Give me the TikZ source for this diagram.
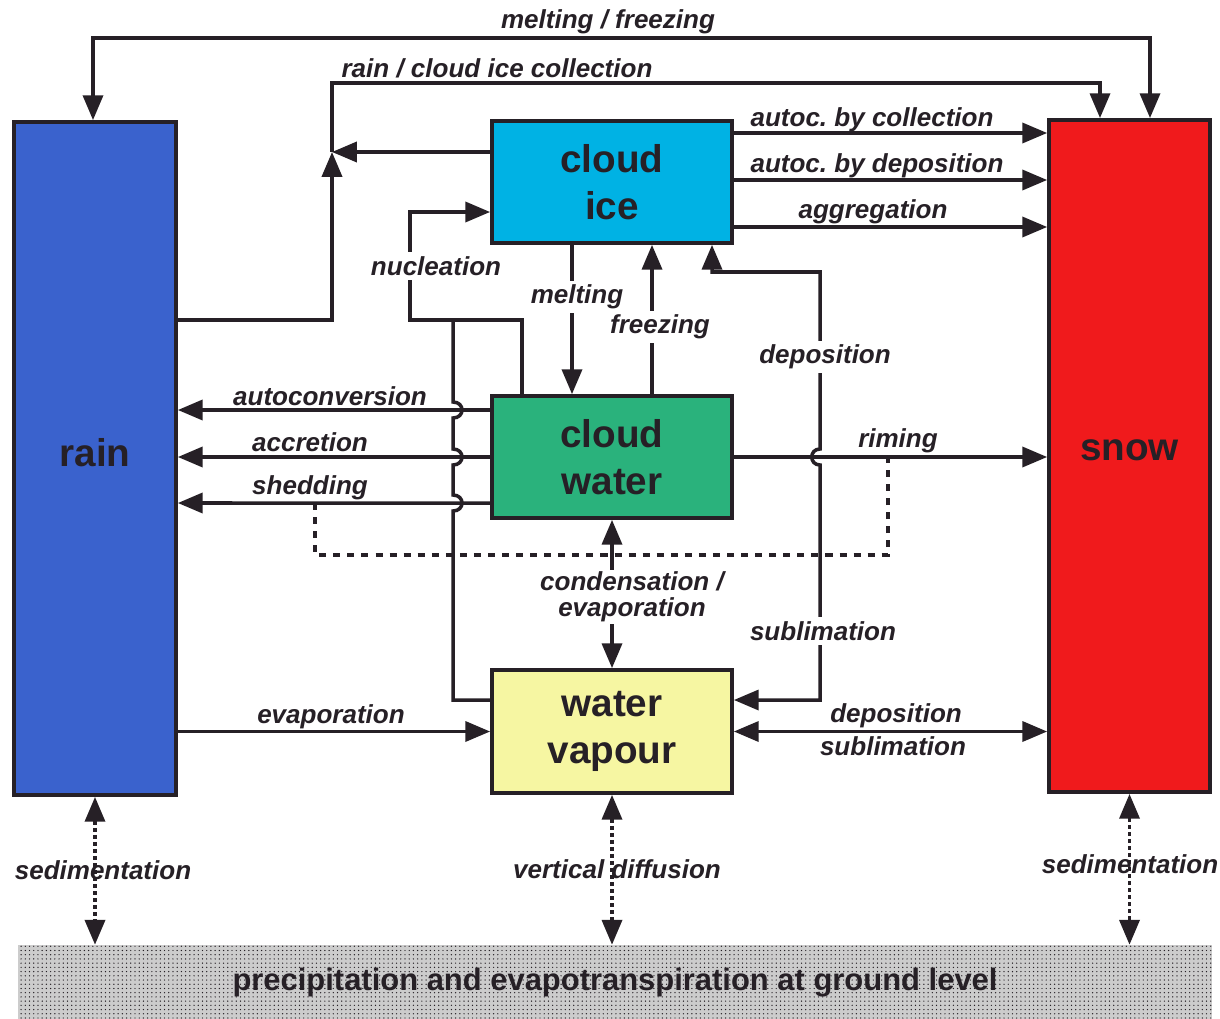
\documentclass[tikz,border=0pt]{standalone}
\usepackage{fontspec}
\setmainfont{Liberation Sans}
\usepackage{tikz}
\usetikzlibrary{arrows.meta, patterns}

\definecolor{ink}{RGB}{38,32,38}
\definecolor{rainblue}{RGB}{58,98,205}
\definecolor{snowred}{RGB}{240,26,28}
\definecolor{iceblue}{RGB}{0,178,228}
\definecolor{watergreen}{RGB}{42,178,124}
\definecolor{vapouryellow}{RGB}{246,246,162}

\tikzset{
  box/.style={draw=ink, line width=2.6pt, inner sep=0pt, align=center,
    text=ink, font=\fontsize{27.5}{33}\selectfont\bfseries},
  lbl/.style={text=ink, inner sep=1pt, align=center,
    font=\frenchspacing\fontsize{18.5}{18.5}\selectfont\bfseries\itshape},
  gap/.style={lbl, fill=white, inner sep=3pt},
  flow/.style={draw=ink, line width=2.5pt},
  arr/.style={flow, -{Triangle[length=0.62cm,width=0.5cm]}},
  dbl/.style={flow, {Triangle[length=0.62cm,width=0.5cm]}-{Triangle[length=0.62cm,width=0.5cm]}},
  dotarr/.style={dbl, dash pattern=on 3pt off 2pt},
  link/.style={flow, dash pattern=on 5pt off 5pt},
}

\begin{document}
\begin{tikzpicture}[x=0.025cm, y=-0.025cm]
  \fill[white] (0,0) rectangle (1220,1018);
  \useasboundingbox (0,0) rectangle (1220,1018);

  % the five water classes
  \node[box, fill=rainblue, minimum width=4.05cm, minimum height=16.825cm] (rain) at (95,458.5) {\raisebox{0.28cm}{rain}};
  \node[box, fill=snowred, minimum width=4.025cm, minimum height=16.8cm] (snow) at (1129.5,456) {\raisebox{0.28cm}{snow}};
  \node[box, fill=iceblue, minimum width=6cm, minimum height=3.05cm] (cice) at (612,182) {cloud\\ice};
  \node[box, fill=watergreen, minimum width=6cm, minimum height=3.05cm] (cwater) at (612,457) {cloud\\water};
  \node[box, fill=vapouryellow, minimum width=6cm, minimum height=3.075cm] (vapour) at (612,731.5) {water\\vapour};

  % ground level
  \node[inner sep=0pt, minimum width=29.85cm, minimum height=1.9cm,
        preaction={fill=black!20}, pattern=dots, pattern color=ink,
        text=ink, font=\fontsize{22}{26}\selectfont\bfseries] (ground) at (615,983)
        {precipitation and evapotranspiration at ground level};

  % bend points
  \coordinate (t1) at (93,38);
  \coordinate (t2) at (1150,38);
  \coordinate (k1) at (332,320);
  \coordinate (k2) at (332,152);
  \coordinate (k3) at (332,83);
  \coordinate (k4) at (1100,83);
  \coordinate (n1) at (410,212);
  \coordinate (n3) at (522,320);
  \coordinate (n4) at (453,320);
  \coordinate (n5) at (453,700);
  \coordinate (d1) at (712,272);
  \coordinate (d2) at (820,272);
  \coordinate (d3) at (820,700);
  \coordinate (s1) at (315,503);
  \coordinate (s2) at (888,555);

  % top loops
  \draw[dbl] (rain.north -| t1) -- (t1) -- (t2) -- (snow.north -| t2);
  \draw[arr] (rain.east |- k1) -- (k1) -- (k2);
  \draw[arr] (cice.west |- k2) -- (k2);
  \draw[arr] (k2) -- (k3) -- (k4) -- (snow.north -| k4);

  % cloud ice -> snow
  \foreach \yy in {133,180,227}
    \draw[arr] (cice.east |- 0,\yy) -- (snow.west |- 0,\yy);

  % nucleation
  \draw[arr] (cwater.north -| n3) -- (n3) -- (n1 |- n3) -- (n1) -- (cice.west |- n1);
  \draw[flow] (vapour.west |- n5) -- (n5) -- (453,511)
    .. controls (465,511) and (465,495) .. (453,495) -- (453,465)
    .. controls (465,465) and (465,449) .. (453,449) -- (453,418)
    .. controls (465,418) and (465,402) .. (453,402) -- (n4);

  % melting / freezing between cloud ice and cloud water
  \draw[arr] ([xshift=-1cm]cice.south) -- ([xshift=-1cm]cwater.north);
  \draw[arr] ([xshift=1cm]cwater.north) -- ([xshift=1cm]cice.south);

  % deposition / sublimation between vapour and cloud ice
  \draw[dbl] (vapour.east |- d3) -- (d3) -- (820,465)
    .. controls (809,465) and (809,449) .. (820,449) -- (d2) -- (d1) -- (cice.south -| d1);

  % cloud water -> rain
  \draw[arr] ([yshift=1.175cm]cwater.west) -- (rain.east |- 0,410);
  \draw[arr] (cwater.west) -- (rain.east |- cwater.west);
  \draw[arr] ([yshift=-1.15cm]cwater.west) -- (rain.east |- 0,503);

  % riming
  \draw[arr] (cwater.east) -- (snow.west |- cwater.east);

  % shedding linked to riming
  \draw[link] (s1) -- (s1 |- s2) -- (s2) -- (s2 |- cwater.east);

  % vapour exchanges
  \draw[dbl] (cwater.south) -- (vapour.north);
  \draw[arr] (rain.east |- vapour.west) -- (vapour.west);
  \draw[dbl] (vapour.east) -- (snow.west |- vapour.east);

  % exchange with the ground
  \draw[dotarr] (rain.south) -- (rain.south |- ground.north);
  \draw[dotarr] (vapour.south) -- (vapour.south |- ground.north);
  \draw[dotarr] (snow.south) -- (snow.south |- ground.north);

  % labels
  \node[lbl] (lmf) at (608,22) {melting / freezing};
  \node[lbl] (lcol) at (497,68) {rain / cloud ice collection};
  \node[lbl] (lac) at (872,120) {autoc. by collection};
  \node[lbl] (lad) at (877,166) {autoc. by deposition};
  \node[lbl] (lagg) at (873,212) {aggregation};
  \node[gap] (lnuc) at (436,266) {nucleation};
  \node[gap] (lmelt) at (577,297) {melting};
  \node[gap] (lfrz) at (660,327) {freezing};
  \node[gap] (ldep) at (825,357) {deposition};
  \node[lbl] (lauto) at (330,396) {autoconversion};
  \node[lbl] (lacc) at (310,442) {accretion};
  \node[lbl] (lshed) at (310,488) {shedding};
  \node[lbl] (lrim) at (898,441) {riming};
  \node[gap, inner sep=1pt] (lcond) at (632,597) {condensation /\\evaporation};
  \node[gap] (lsub) at (823,631) {sublimation};
  \node[lbl] (levap) at (331,717) {evaporation};
  \node[lbl] (lvdep) at (896,716) {deposition};
  \node[lbl] (lvsub) at (893,746) {sublimation};
  \node[lbl] (lsedr) at (103,870) {sedimentation};
  \node[lbl] (ldiff) at (617,869) {vertical diffusion};
  \node[lbl] (lseds) at (1130,864) {sedimentation};
\end{tikzpicture}
\end{document}
